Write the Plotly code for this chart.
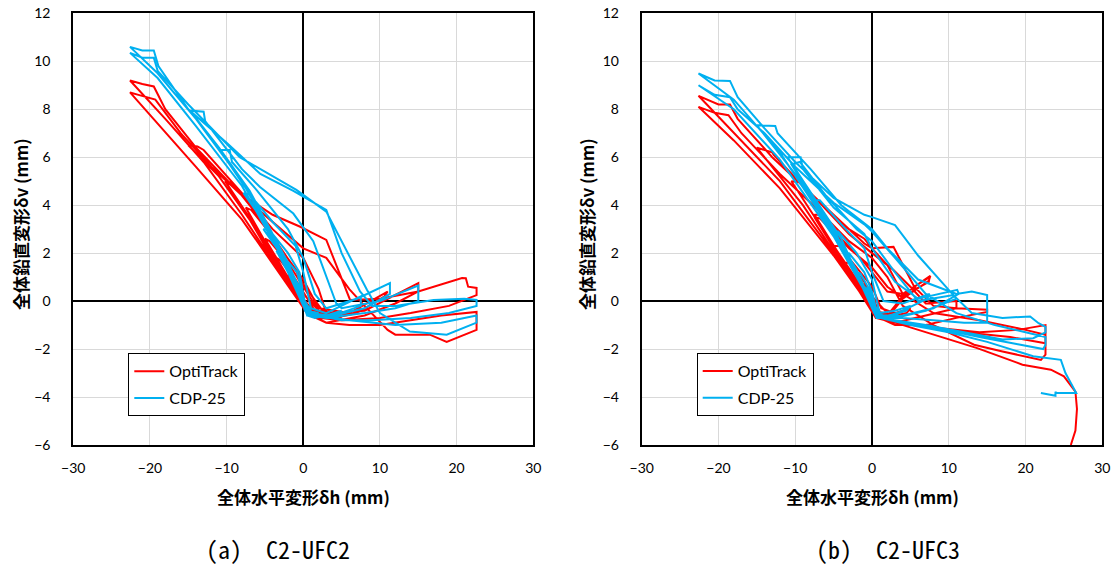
import plotly.graph_objects as go

# ---------------- data: (a) C2-UFC2 ----------------
a_opti_x = [0, -1, -0.6, 0, 1, 0.6, 0,
            -2, -1.5, 0, 2, 1.5, 0,
            -1.5, -3.5, -3, -1, 0, 1.5, 3.5, 3, 1, 0,
            -2, -5, -4.4, -2, 0, 2, 5, 4.3, 1.5, 0.3,
            -2, -5, -7.5, -6.8, -4, -1, 0, 2.5, 5, 7.5, 7, 4, 1, 0.3,
            -3, -6, -10.2, -9.4, -6, -3, 0, 2, 6, 11, 10.6, 7, 3, 0.5,
            -3, -7, -11, -15, -13.8, -13, -8, -4, 0, 2, 3, 8, 15, 15, 12, 8, 3, 0.5,
            -3, -8, -13, -18, -22.6, -21, -19.5, -18, -14, -8.3, -4, -0.4, 3, 6.1, 10, 15, 20.7, 21.2, 21.5, 22.6, 22.6, 19, 14, 10, 5, 2, 0.5,
            -3, -8, -14, -19, -22.6, -21.5, -19.3, -16, -12, -8, -4, -1, 0, 3, 6, 8, 11, 12, 16.5, 18.7, 22.6, 22.6, 18, 14, 10, 6, 3, 1]
a_opti_y = [0, 0.5, 0.4, 0.1, -0.3, -0.3, -0.1,
            1.1, 1.0, 0.3, -0.4, -0.4, -0.2,
            0.7, 1.8, 1.7, 0.9, 0.4, -0.4, -0.6, -0.6, -0.5, -0.2,
            1.0, 2.6, 2.5, 1.6, 0.6, -0.4, -0.7, -0.6, -0.5, -0.3,
            0.9, 2.5, 3.9, 3.8, 2.7, 1.3, 0.7, -0.4, -0.6, -0.3, -0.5, -0.7, -0.6, -0.3,
            1.3, 3.0, 5.0, 4.95, 3.6, 2.2, 0.9, -0.3, -0.5, 0.4, 0.2, -0.5, -0.7, -0.4,
            1.2, 3.4, 5.2, 6.5, 6.45, 6.3, 4.5, 3.0, 1.8, 0.5, -0.5, -0.4, 0.75, 0.4, -0.1, -0.6, -0.9, -0.5,
            1.2, 3.6, 5.8, 7.6, 9.2, 9.05, 8.95, 8.0, 6.4, 4.5, 3.6, 3.1, 2.55, 0.05, 0.1, 0.4, 0.96, 0.95, 0.6, 0.55, 0.25, -0.2, -0.5, -0.7, -0.8, -0.7, -0.5,
            1.1, 3.4, 5.6, 7.4, 8.7, 8.6, 8.4, 7.0, 5.6, 4.4, 3.3, 2.5, 2.2, 1.8, 0.5, -0.2, -1.2, -1.4, -1.4, -1.7, -1.2, -0.45, -0.6, -0.8, -1.0, -1.0, -0.9, -0.6]

a_cdp_x = [0, -1, -0.6, 0, 1, 0.6, 0,
           -2, -1.5, -0.3, 0.2, 2, 1.5, 0.3,
           -1.5, -3.5, -3, -0.8, 0, 0.5, 3.5, 3, 0.5,
           -3, -5.2, -4.5, -2, -0.5, 0, 0.5, 3, 5, 4.5, 1.5, 0.5,
           -1.5, -4, -7.8, -7, -4, -1, 0, 1, 3, 7.5, 7.5, 4, 1,
           -2, -6, -10.9, -9.6, -9.3, -6, -2, 0, 1.5, 3, 7, 11.3, 11.3, 8, 4, 1,
           -2, -7, -11, -14.8, -13, -12.8, -8, -5.65, -1.3, 1.3, 4.3, 5, 10, 15, 15, 12, 8, 3, 1,
           -2, -8, -14, -19, -22.6, -21, -19.5, -18.9, -15, -10, -5.6, -1.3, 0, 3, 5, 7.4, 9, 12, 17, 21, 22.6, 22.6, 19, 14, 9, 5, 2, 0.5,
           -2, -8, -14, -19, -22.6, -21, -19.5, -19, -15, -8.3, -0.9, 3, 8.3, 10, 13.9, 18.7, 22.6, 22.6, 18, 12, 6, 2]
a_cdp_y = [0, 0.6, 0.5, 0.1, -0.4, -0.4, -0.2,
           1.2, 1.15, 0.5, -0.4, -0.5, -0.5, -0.4,
           0.9, 2.1, 2.0, 1.2, 0.2, -0.5, -0.6, -0.6, -0.5,
           2.0, 3.0, 3.0, 2.0, 1.2, 0.3, -0.6, -0.6, -0.4, -0.5, -0.7, -0.6,
           1.2, 2.8, 4.5, 4.45, 3.3, 2.3, 1.2, -0.3, -0.5, 0.2, -0.2, -0.6, -0.6,
           1.6, 4.0, 6.3, 6.3, 5.8, 4.6, 3.0, 1.8, 0.3, -0.3, 0.1, 0.75, 0.3, -0.3, -0.6, -0.6,
           1.6, 4.6, 6.4, 7.95, 7.9, 7.5, 5.5, 4.76, 3.65, 2.5, -0.1, -0.3, 0.0, 0.65, 0.0, -0.3, -0.5, -0.7, -0.6,
           1.5, 5.0, 7.6, 9.5, 10.6, 10.45, 10.45, 9.8, 8.0, 6.6, 5.3, 4.6, 4.35, 3.8, 2.0, 0.4, -0.2, -0.2, 0.05, 0.1, 0.05, -0.2, -0.5, -0.7, -0.8, -0.8, -0.6, -0.5,
           1.4, 4.8, 7.3, 9.3, 10.35, 10.15, 10.15, 9.6, 8.2, 6.0, 4.64, 3.73, 0.47, -0.5, -1.27, -1.4, -0.9, -0.6, -0.9, -1.0, -0.8, -0.6]

# ---------------- data: (b) C2-UFC3 ----------------
b_opti_x = [0, -1, -0.6, 0, 1, 0.6, 0,
            -2, -1.5, 0, 2, 1.5, 0.2,
            -1.5, -3.5, -3, -1, 0.3, 1, 3.5, 3, 0.8,
            -2, -5, -4.3, -2, 0, 1.2, 3, 5, 4.5, 1.5, 0.5,
            -3, -7.5, -6.8, -4, -1, 0.5, 2, 4, 7.5, 7.4, 4, 2, 0.5,
            -3, -7.5, -6.8, -3, 0, 2, 3.7, 7.6, 7.4, 4, 2, 0.5,
            -4, -10.5, -9.3, -6, -3, 0, 2.8, 5, 7, 11, 11, 7, 3, 0.5,
            -4, -9, -15, -13, -12.8, -9, -5, -1, 0, 2.8, 5.5, 8, 11, 15, 15, 11, 7, 3, 1,
            -5, -12, -18, -22.6, -20, -18.5, -17.5, -13, -8, -4, -1, 0, 2, 4, 8, 14, 20, 22.6, 22.6, 18, 12, 6, 2, 0.8,
            -5, -12, -18, -22.6, -20.5, -18.7, -17, -12, -7, -3, 0, 2, 4, 8, 13.3, 17, 22, 22.6, 22.6, 19, 14, 8, 3, 1,
            5, 8.9, 13.7, 19.6, 23.3, 25, 26.5, 26.7, 26.5, 25.9]
b_opti_y = [0, 0.4, 0.35, 0, -0.4, -0.4, -0.2,
            0.9, 0.85, 0.2, -0.5, -0.5, -0.4,
            0.6, 1.6, 1.6, 0.8, 0, -0.5, -0.6, -0.6, -0.6,
            0.9, 2.3, 2.3, 1.4, 0.6, -0.3, -0.5, -0.3, -0.5, -0.7, -0.6,
            1.3, 3.6, 3.6, 2.6, 1.6, 1.0, 0.4, 0.3, 1.0, 0.8, 0.2, -0.6, -0.7,
            1.2, 3.5, 3.45, 2.2, 1.4, 0.6, 0.2, 1.05, 0.85, 0.1, -0.7, -0.7,
            1.8, 5.0, 4.95, 3.8, 2.8, 2.0, 1.3, 0.6, -0.1, 0.0, -0.3, -0.6, -0.9, -0.7,
            1.6, 4.0, 6.4, 6.2, 6.1, 4.8, 3.6, 2.4, 2.2, 2.26, 0.6, -0.2, -0.3, -0.36, -0.45, -0.7, -1.0, -1.0, -0.7,
            2.0, 5.0, 7.0, 8.56, 8.2, 8.2, 7.6, 6.0, 4.5, 3.2, 2.6, 2.2, 1.5, 0.3, -0.5, -0.8, -1.2, -1.4, -1.76, -1.5, -1.3, -1.0, -0.8, -0.7,
            1.9, 4.7, 6.7, 8.1, 7.85, 7.75, 7.0, 5.3, 3.8, 2.5, 1.8, 1.0, -0.2, -1.0, -1.82, -2.1, -2.45, -2.23, -1.0, -1.2, -1.3, -1.1, -0.9, -0.7,
            -1.1, -1.47, -1.96, -2.65, -2.86, -3.14, -3.77, -4.5, -5.4, -6.0]

b_cdp_x = [0, -1, -0.6, 0, 1, 0.6, 0,
           -2, -1.5, -0.2, 0.5, 2, 1.5, 0.3,
           -1.5, -3.5, -3, -1, 0, 0.8, 3.5, 3, 0.8,
           -2, -5, -4.4, -2, 0, 1, 3, 5, 4.5, 1.5, 0.6,
           -3, -7.5, -6.8, -4, -1, 0, 1.5, 4, 7.5, 7.2, 4, 1.5, 0.6,
           -4, -11, -9.3, -9, -5, -1, 0, 3, 6, 11.1, 11.3, 8, 4, 1,
           -4, -10.5, -9.4, -6, -2, 0, 3, 6, 10.6, 11, 7, 3, 0.8,
           -5, -10, -15, -12.6, -12.3, -8, -4, 0, 2, 6, 11, 13, 15, 15, 12, 8, 4, 1,
           -5, -12, -18, -22.6, -20.5, -18.5, -17.5, -14, -10, -5, -1, 0, 3, 6, 10.6, 13, 17, 20.6, 21.7, 22.6, 22.6, 21, 17, 12, 7, 3, 1,
           -5, -12, -18, -22.6, -20.5, -18.5, -17.5, -14, -10, -5, -1, 0, 3, 7, 11, 16, 20, 22.6, 22.6, 22.3, 19, 14, 8, 3, 1,
           5, 10, 15, 21, 24.6, 25.2, 26.6, 26.6, 24, 23.9, 23.9, 22]
b_cdp_y = [0, 0.6, 0.5, 0, -0.5, -0.5, -0.3,
           1.2, 1.15, 0.4, -0.6, -0.6, -0.6, -0.5,
           0.9, 2.0, 2.0, 1.2, 0.4, -0.7, -0.5, -0.6, -0.7,
           1.3, 2.9, 2.9, 2.0, 0.9, -0.5, -0.4, -0.2, -0.4, -0.7, -0.7,
           1.8, 4.2, 4.2, 3.2, 2.2, 1.2, 0.0, -0.1, 0.3, 0.1, -0.4, -0.7, -0.7,
           2.6, 6.0, 6.0, 5.5, 3.9, 2.8, 2.2, 0.8, 0.1, 0.47, 0.3, -0.3, -0.6, -0.7,
           2.4, 5.7, 5.8, 4.4, 3.0, 2.5, 1.2, 0.0, 0.25, 0.1, -0.4, -0.7, -0.7,
           3.0, 5.3, 7.33, 7.3, 7.0, 5.5, 4.0, 3.0, 2.2, 0.9, 0.3, 0.4, 0.25, -0.9, -0.9, -0.8, -0.7, -0.7,
           2.8, 6.2, 8.4, 9.49, 9.2, 9.18, 8.5, 7.2, 5.8, 4.3, 3.6, 3.5, 3.17, 1.9, 0.25, -0.5, -0.7, -0.64, -0.92, -1.07, -1.3, -1.55, -1.6, -1.3, -1.0, -0.8, -0.7,
           2.7, 5.9, 8.0, 9.0, 8.6, 8.5, 8.0, 7.0, 5.6, 4.1, 3.2, 2.9, 1.8, 0.3, -0.5, -1.0, -1.3, -1.5, -1.83, -2.0, -1.8, -1.5, -1.1, -0.8, -0.7,
           -1.0, -1.3, -1.7, -2.3, -2.45, -3.0, -3.83, -3.83, -3.83, -3.78, -3.95, -3.83]

x_ticks = [-30, -20, -10, 0, 10, 20, 30]
y_ticks = [-6, -4, -2, 0, 2, 4, 6, 8, 10, 12]
series_names = ["OptiTrack", "CDP-25"]
x_title = "全体水平変形δh (mm)"
y_title = "全体鉛直変形δv (mm)"
captions = ["(a)\u3000C2-UFC2", "(b)\u3000C2-UFC3"]

RED = "#FF0000"
BLUE = "#00B0F0"
W, H = 1119, 565


def px(xp):
    return xp / W


def py(yp):
    return 1 - yp / H


fig = go.Figure()
panels = [(a_opti_x, a_opti_y, a_cdp_x, a_cdp_y, "x", "y", "legend", "a"),
          (b_opti_x, b_opti_y, b_cdp_x, b_cdp_y, "x2", "y2", "legend2", "b")]
for ox, oy, cx, cy, xa, ya, lg, tag in panels:
    fig.add_trace(go.Scatter(x=ox, y=oy, mode="lines", name=series_names[0],
                             line=dict(color=RED, width=2), xaxis=xa, yaxis=ya,
                             legend=lg, legendgroup=tag + "1"))
    fig.add_trace(go.Scatter(x=cx, y=cy, mode="lines", name=series_names[1],
                             line=dict(color=BLUE, width=2), xaxis=xa, yaxis=ya,
                             legend=lg, legendgroup=tag + "2"))

tick_font = dict(family="Lato, 'Open Sans', sans-serif", size=14, color="black")
ydom = [py(445), py(13.3)]
xdoms = [[px(73.3), px(533.3)], [px(641.7), px(1102.3)]]

axis_common = dict(showgrid=True, gridcolor="#D9D9D9", gridwidth=1,
                   zeroline=True, zerolinecolor="black", zerolinewidth=2,
                   showline=True, linecolor="black", linewidth=2, mirror=True,
                   ticks="", tickfont=tick_font, automargin=False,
                   ticklabeloverflow="allow")

for i, (xk, yk) in enumerate([("xaxis", "yaxis"), ("xaxis2", "yaxis2")]):
    anchor_x = "y" if i == 0 else "y2"
    anchor_y = "x" if i == 0 else "x2"
    fig.layout[xk] = dict(axis_common, domain=xdoms[i], range=[-30, 30], tickvals=x_ticks,
                          anchor=anchor_x, ticklabelstandoff=9)
    fig.layout[yk] = dict(axis_common, domain=ydom, range=[-6, 12], tickvals=y_ticks,
                          anchor=anchor_y, ticklabelstandoff=18)

leg_common = dict(bgcolor="white", bordercolor="black", borderwidth=1,
                  font=dict(family="Lato, 'Open Sans', sans-serif", size=16, color="black"),
                  xanchor="left", yanchor="top", itemwidth=30, tracegroupgap=3)
fig.update_layout(
    legend=dict(leg_common, x=px(128.3), y=py(353.3)),
    legend2=dict(leg_common, x=px(696.7), y=py(353)),
)

ann = []
centers = [303.3, 872.0]
ytitle_x = [20, 586]
for i in range(2):
    ann.append(dict(text="<b>" + x_title + "</b>", x=px(centers[i]), y=py(497),
                    xref="paper", yref="paper", showarrow=False,
                    xanchor="center", yanchor="middle",
                    font=dict(family="Noto Sans CJK JP", size=17, color="black")))
    ann.append(dict(text="<b>" + y_title + "</b>", x=px(ytitle_x[i]), y=py(224),
                    xref="paper", yref="paper", showarrow=False, textangle=-90,
                    xanchor="center", yanchor="middle",
                    font=dict(family="Noto Sans CJK JP", size=17, color="black")))
    ann.append(dict(text=captions[i], x=px([278, 888][i]), y=py(548),
                    xref="paper", yref="paper", showarrow=False,
                    xanchor="center", yanchor="middle",
                    font=dict(family="'Noto Sans Mono CJK JP', 'Noto Sans CJK JP'", size=24, color="black")))

fig.update_layout(
    annotations=ann,
    width=W, height=H,
    margin=dict(l=0, r=0, t=0, b=0, autoexpand=False),
    paper_bgcolor="white", plot_bgcolor="white",
    showlegend=True,
)

fig.write_html("out.html",
               config={"displayModeBar": False},
               post_script="document.body.style.margin='0px';document.body.style.overflow='hidden';")
